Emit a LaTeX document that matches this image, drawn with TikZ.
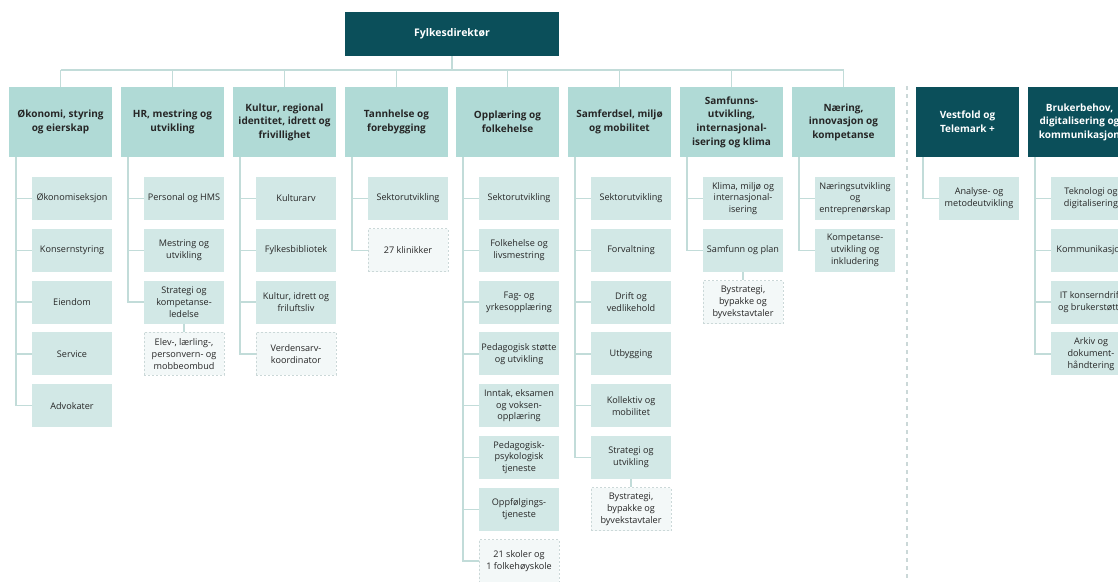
\documentclass[tikz,border=0pt]{standalone}
\usepackage{fontspec}
\setmainfont{Open Sans}
\definecolor{darkteal}{HTML}{0B4F5A}
\definecolor{headfill}{HTML}{B0DAD6}
\definecolor{subfill}{HTML}{D2E8E6}
\definecolor{linkcol}{HTML}{C2DCD9}
\definecolor{notefill}{HTML}{F3F8F8}
\definecolor{noteedge}{HTML}{CBD8D8}
\definecolor{ink}{HTML}{262626}
\tikzset{
  headbox/.style={fill=headfill, minimum width=103pt, minimum height=70pt, inner sep=1pt,
    align=center, text=ink, font=\fontsize{10}{13.6}\selectfont\bfseries},
  darkbox/.style={headbox, fill=darkteal, text=white},
  chiefbox/.style={fill=darkteal, minimum width=214pt, minimum height=44pt, text=white,
    font=\fontsize{10.5}{12.6}\selectfont\bfseries},
  subbox/.style={fill=subfill, minimum width=80pt, minimum height=43pt, inner sep=0.5pt,
    align=center, text=ink, font=\fontsize{9.1}{11.8}\selectfont},
  notebox/.style={subbox, fill=notefill, draw=noteedge, line width=0.9pt, dash pattern=on 2pt off 2pt},
  link/.style={draw=linkcol, line width=1.4pt},
  divider/.style={draw=noteedge, line width=1.2pt, dash pattern=on 4pt off 4pt},
}
\begin{document}
\begin{tikzpicture}[x=1pt,y=-1pt]
\useasboundingbox (0,0) rectangle (1118,581);
\clip (0,0) rectangle (1118,581);

% director and main bus
\node[chiefbox] (d) at (452,34) {Fylkesdirektør};
\coordinate (busL) at (60.5,70);
\coordinate (busR) at (843.5,70);

% top-level units
\node[headbox] (t1) at (60.5,122) {Økonomi, styring\\og eierskap};
\node[headbox] (t2) at (172.5,122) {HR, mestring og\\utvikling};
\node[headbox] (t3) at (284.5,122) {Kultur, regional\\identitet, idrett og\\frivillighet};
\node[headbox] (t4) at (396.5,122) {Tannhelse og\\forebygging};
\node[headbox] (t5) at (507.5,122) {Opplæring og\\folkehelse};
\node[headbox] (t6) at (619.5,122) {Samferdsel, miljø\\og mobilitet};
\node[headbox] (t7) at (731.5,122) {Samfunns-\\utvikling,\\internasjonal-\\isering og klima};
\node[headbox] (t8) at (843.5,122) {Næring,\\innovasjon og\\kompetanse};
\node[darkbox] (t9) at (967.5,122) {Vestfold og\\Telemark +};
\node[darkbox] (t10) at (1079.5,122) {Brukerbehov,\\digitalisering og\\kommunikasjon};

% column 1
\node[subbox] (s1a) at (72,198.5) {Økonomiseksjon};
\node[subbox] (s1b) at (72,250.3) {Konsernstyring};
\node[subbox] (s1c) at (72,302.1) {Eiendom};
\node[subbox] (s1d) at (72,353.9) {Service};
\node[subbox] (s1e) at (72,405.7) {Advokater};

% column 2
\node[subbox] (s2a) at (184,198.5) {Personal og HMS};
\node[subbox] (s2b) at (184,250.3) {Mestring og\\utvikling};
\node[subbox] (s2c) at (184,302.1) {Strategi og\\kompetanse-\\ledelse};
\node[notebox] (s2d) at (184,353.9) {Elev-, lærling-,\\personvern- og\\mobbeombud};

% column 3
\node[subbox] (s3a) at (296,198.5) {Kulturarv};
\node[subbox] (s3b) at (296,250.3) {Fylkesbibliotek};
\node[subbox] (s3c) at (296,302.1) {Kultur, idrett og\\friluftsliv};
\node[notebox] (s3d) at (296,353.9) {Verdensarv-\\koordinator};

% column 4
\node[subbox] (s4a) at (408,198.5) {Sektorutvikling};
\node[notebox] (s4b) at (408,250.3) {27 klinikker};

% column 5
\node[subbox] (s5a) at (519,198.5) {Sektorutvikling};
\node[subbox] (s5b) at (519,250.3) {Folkehelse og\\livsmestring};
\node[subbox] (s5c) at (519,302.1) {Fag- og\\yrkesopplæring};
\node[subbox] (s5d) at (519,353.9) {Pedagogisk støtte\\og utvikling};
\node[subbox] (s5e) at (519,405.7) {Inntak, eksamen\\og voksen-\\opplæring};
\node[subbox] (s5f) at (519,457.5) {Pedagogisk-\\psykologisk\\tjeneste};
\node[subbox] (s5g) at (519,509.3) {Oppfølgings-\\tjeneste};
\node[notebox] (s5h) at (519,561.1) {21 skoler og\\1 folkehøyskole};

% column 6
\node[subbox] (s6a) at (631,198.5) {Sektorutvikling};
\node[subbox] (s6b) at (631,250.3) {Forvaltning};
\node[subbox] (s6c) at (631,302.1) {Drift og\\vedlikehold};
\node[subbox] (s6d) at (631,353.9) {Utbygging};
\node[subbox] (s6e) at (631,405.7) {Kollektiv og\\mobilitet};
\node[subbox] (s6f) at (631,457.5) {Strategi og\\utvikling};
\node[notebox] (s6g) at (631,509.3) {Bystrategi,\\bypakke og\\byvekstavtaler};

% column 7
\node[subbox] (s7a) at (743,198.5) {Klima, miljø og\\internasjonal-\\isering};
\node[subbox] (s7b) at (743,250.3) {Samfunn og plan};
\node[notebox] (s7c) at (743,302.1) {Bystrategi,\\bypakke og\\byvekstavtaler};

% column 8
\node[subbox] (s8a) at (855,198.5) {Næringsutvikling\\og\\entreprenørskap};
\node[subbox] (s8b) at (855,250.3) {Kompetanse-\\utvikling og\\inkludering};

% column 9
\node[subbox] (s9a) at (979,198.5) {Analyse- og\\metodeutvikling};

% column 10
\node[subbox] (s10a) at (1091,198.5) {Teknologi og\\digitalisering};
\node[subbox] (s10b) at (1091,250.3) {Kommunikasjon};
\node[subbox] (s10c) at (1091,302.1) {IT konserndrift\\og brukerstøtte};
\node[subbox] (s10d) at (1091,353.9) {Arkiv og\\dokument-\\håndtering};

% director to bus
\draw[link] (d.south) -- (d.south |- busL);
\draw[link] (busL) -- (busR);
\foreach \t in {t1,t2,t3,t4,t5,t6,t7,t8}
  \draw[link] (\t.north) -- (\t.north |- busL);

% column trees
\foreach \c in {s1a,s1b,s1c,s1d,s1e}
  \draw[link] ([xshift=7pt]t1.south west) |- (\c.west);
\foreach \c in {s2a,s2b,s2c}
  \draw[link] ([xshift=7pt]t2.south west) |- (\c.west);
\draw[link] (s2c.south) -- (s2d.north);
\foreach \c in {s3a,s3b,s3c,s3d}
  \draw[link] ([xshift=7pt]t3.south west) |- (\c.west);
\foreach \c in {s4a,s4b}
  \draw[link] ([xshift=7pt]t4.south west) |- (\c.west);
\foreach \c in {s5a,s5b,s5c,s5d,s5e,s5f,s5g,s5h}
  \draw[link] ([xshift=7pt]t5.south west) |- (\c.west);
\foreach \c in {s6a,s6b,s6c,s6d,s6e,s6f}
  \draw[link] ([xshift=7pt]t6.south west) |- (\c.west);
\draw[link] (s6f.south) -- (s6g.north);
\foreach \c in {s7a,s7b}
  \draw[link] ([xshift=7pt]t7.south west) |- (\c.west);
\draw[link] (s7b.south) -- (s7c.north);
\foreach \c in {s8a,s8b}
  \draw[link] ([xshift=7pt]t8.south west) |- (\c.west);
\draw[link] ([xshift=7pt]t9.south west) |- (s9a.west);
\foreach \c in {s10a,s10b,s10c,s10d}
  \draw[link] ([xshift=7pt]t10.south west) |- (\c.west);

% divider between the two groups
\coordinate (divTop) at (907,86);
\coordinate (divBot) at (907,581);
\draw[divider] (divTop) -- (divBot);
\end{tikzpicture}
\end{document}
